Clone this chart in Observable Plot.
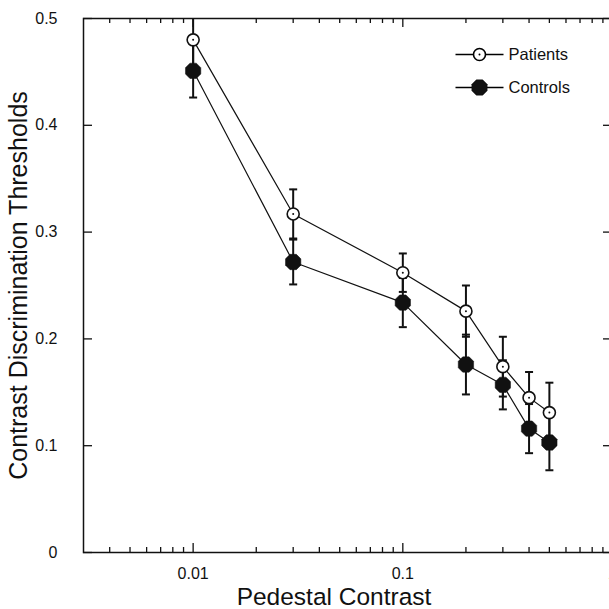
<!DOCTYPE html>
<html>
<head>
<meta charset="utf-8">
<script src="https://cdn.jsdelivr.net/npm/d3@7"></script>
<script src="https://cdn.jsdelivr.net/npm/@observablehq/plot@0.6"></script>
<style>
  html, body { margin: 0; padding: 0; background: #fff; overflow: hidden; width: 609px; height: 609px; }
  #chart { width: 609px; height: 609px; overflow: hidden; }
  #chart svg { display: block; max-width: none !important; }
</style>
</head>
<body>
<div id="chart"></div>
<script>
// ---- data ----
const contrast = [0.01, 0.03, 0.1, 0.2, 0.3, 0.4, 0.5];
const patients = [0.480, 0.317, 0.262, 0.226, 0.174, 0.145, 0.131];
const patientsErr = [0.027, 0.023, 0.018, 0.024, 0.028, 0.024, 0.028];
const controls = [0.451, 0.272, 0.234, 0.176, 0.157, 0.116, 0.103];
const controlsErr = [0.025, 0.021, 0.023, 0.028, 0.023, 0.023, 0.026];
const seriesNames = ["Patients", "Controls"];
const yTicks = [0, 0.1, 0.2, 0.3, 0.4, 0.5];
const xMajor = [0.01, 0.1, 1];
const xMinor = [0.004, 0.005, 0.006, 0.007, 0.008, 0.009,
                0.02, 0.03, 0.04, 0.05, 0.06, 0.07, 0.08, 0.09,
                0.2, 0.3, 0.4, 0.5, 0.6, 0.7, 0.8, 0.9];
const xLabel = "Pedestal Contrast";
const yLabel = "Contrast Discrimination Thresholds";

// ---- table built from the arrays ----
const rows = [];
contrast.forEach((c, i) => {
  rows.push({series: seriesNames[0], x: c, y: patients[i], e: patientsErr[i]});
  rows.push({series: seriesNames[1], x: c, y: controls[i], e: controlsErr[i]});
});
const pRows = rows.filter(d => d.series === seriesNames[0]);
const cRows = rows.filter(d => d.series === seriesNames[1]);

// ---- layout ----
const W = 618, H = 609;
const mL = 83, mR = 6, mT = 18, mB = 57;
const plotW = W - mL - mR, plotH = H - mT - mB;
const majorLen = 9, minorLen = 5;

// custom symbols
const octagon = {
  draw(ctx, size) {
    const R = Math.sqrt(size / Math.PI);
    for (let k = 0; k < 8; k++) {
      const a = Math.PI / 8 + k * Math.PI / 4;
      const px = R * Math.cos(a), py = R * Math.sin(a);
      if (k === 0) ctx.moveTo(px, py); else ctx.lineTo(px, py);
    }
    ctx.closePath();
  }
};
const hline = (hw) => ({
  draw(ctx) { ctx.moveTo(-hw, 0); ctx.lineTo(hw, 0); }
});

const font = "'Liberation Sans', Arial, Helvetica, sans-serif";

function legendRow(name, dy) {
  const isP = name === seriesNames[0];
  const marks = [
    Plot.dot([name], {frameAnchor: "top-left", dx: 396, dy, symbol: hline(24), stroke: "black", strokeWidth: 1.3, r: 3}),
    isP
      ? Plot.dot([name], {frameAnchor: "top-left", dx: 396, dy, r: 6, fill: "white", stroke: "black", strokeWidth: 1.6})
      : Plot.dot([name], {frameAnchor: "top-left", dx: 396, dy, r: 8.3, symbol: octagon, fill: "#111", stroke: "#111", strokeWidth: 0.5}),
    Plot.text([name], {frameAnchor: "top-left", dx: 425, dy, text: d => d, textAnchor: "start", lineAnchor: "middle", fontSize: 16.5, fill: "#111"})
  ];
  if (isP) marks.push(Plot.dot([name], {frameAnchor: "top-left", dx: 396, dy, r: 1, fill: "black"}));
  return marks;
}

const chart = Plot.plot({
  width: W,
  height: H,
  marginLeft: mL,
  marginRight: mR,
  marginTop: mT,
  marginBottom: mB,
  style: {fontFamily: font, fontSize: "16px", background: "white", color: "#111", overflow: "hidden", maxWidth: "none"},
  x: {type: "log", domain: [0.003, 1]},
  y: {domain: [0, 0.5]},
  marks: [
    // frame
    Plot.frame({stroke: "#111", strokeWidth: 1.5}),
    // inward ticks (left / right)
    Plot.tickY(yTicks, {y: d => d, insetRight: plotW - majorLen, stroke: "#111", strokeWidth: 1.3}),
    Plot.tickY(yTicks, {y: d => d, insetLeft: plotW - majorLen, stroke: "#111", strokeWidth: 1.3}),
    // inward ticks (bottom / top)
    Plot.tickX(xMajor, {x: d => d, insetTop: plotH - majorLen, stroke: "#111", strokeWidth: 1.3}),
    Plot.tickX(xMinor, {x: d => d, insetTop: plotH - minorLen, stroke: "#111", strokeWidth: 1.3}),
    Plot.tickX(xMajor, {x: d => d, insetBottom: plotH - majorLen, stroke: "#111", strokeWidth: 1.3}),
    Plot.tickX(xMinor, {x: d => d, insetBottom: plotH - minorLen, stroke: "#111", strokeWidth: 1.3}),
    // tick labels
    Plot.axisY(yTicks, {anchor: "left", tickSize: 0, tickPadding: 26, tickFormat: d => String(d), label: null, fontSize: 16}),
    Plot.axisX(xMajor, {anchor: "bottom", tickSize: 0, tickPadding: 15, tickFormat: d => String(d), label: null, fontSize: 16}),
    // axis titles
    Plot.text([yLabel], {frameAnchor: "left", dx: -65, rotate: -90, text: d => d, fontSize: 25, textAnchor: "middle", lineAnchor: "middle"}),
    Plot.text([xLabel], {frameAnchor: "bottom", dx: -14, dy: 45, text: d => d, fontSize: 24.5, textAnchor: "middle", lineAnchor: "middle"}),
    // connecting lines
    Plot.line(rows, {x: "x", y: "y", z: "series", stroke: "#111", strokeWidth: 1.2}),
    // error bars
    Plot.ruleX(rows, {x: "x", y1: d => d.y - d.e, y2: d => d.y + d.e, stroke: "#111", strokeWidth: 2, clip: true}),
    Plot.dot(rows, {x: "x", y: d => d.y - d.e, symbol: hline(4), stroke: "#111", strokeWidth: 2, clip: true}),
    Plot.dot(rows, {x: "x", y: d => d.y + d.e, symbol: hline(4), stroke: "#111", strokeWidth: 2, clip: true}),
    // markers
    Plot.dot(cRows, {x: "x", y: "y", r: 8.3, symbol: octagon, fill: "#111", stroke: "#111", strokeWidth: 0.5}),
    Plot.dot(pRows, {x: "x", y: "y", r: 6, fill: "white", stroke: "#111", strokeWidth: 1.6}),
    Plot.dot(pRows, {x: "x", y: "y", r: 1, fill: "#111"}),
    // legend
    ...legendRow(seriesNames[0], 36),
    ...legendRow(seriesNames[1], 69)
  ]
});
document.getElementById("chart").append(chart);
</script>
</body>
</html>
